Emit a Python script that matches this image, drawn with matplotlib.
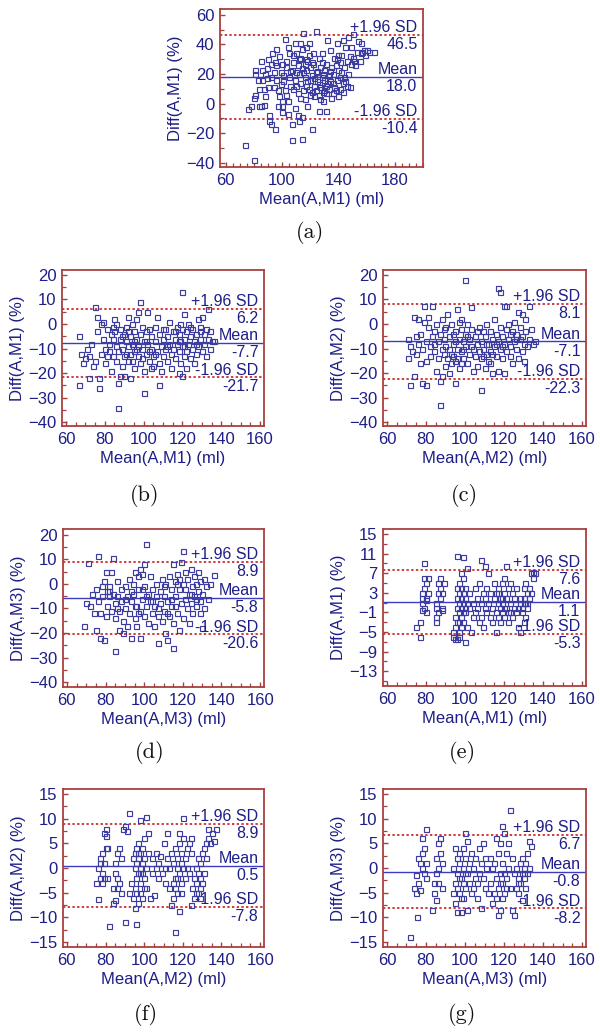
import matplotlib
matplotlib.use('Agg')
import matplotlib.pyplot as plt
from matplotlib.ticker import AutoMinorLocator, FixedLocator

plt.rcParams['font.family'] = ['Liberation Sans', 'DejaVu Sans']

# ---------------- data ----------------
captions = ['(a)', '(b)', '(c)', '(d)', '(e)', '(f)', '(g)']
x_labels = ['Mean(A,M1) (ml)', 'Mean(A,M1) (ml)', 'Mean(A,M2) (ml)', 'Mean(A,M3) (ml)',
            'Mean(A,M1) (ml)', 'Mean(A,M2) (ml)', 'Mean(A,M3) (ml)']
y_labels = ['Diff(A,M1) (%)', 'Diff(A,M1) (%)', 'Diff(A,M2) (%)', 'Diff(A,M3) (%)',
            'Diff(A,M1) (%)', 'Diff(A,M2) (%)', 'Diff(A,M3) (%)']
mean_vals = [18.0, -7.7, -7.1, -5.8, 1.1, 0.5, -0.8]
upper_vals = [46.5, 6.2, 8.1, 8.9, 7.6, 8.9, 6.7]
lower_vals = [-10.4, -21.7, -22.3, -20.6, -5.3, -7.8, -8.2]
xticks_a = [60, 100, 140, 180]
xticks_bg = [60, 80, 100, 120, 140, 160]
yticks_a = [-40, -20, 0, 20, 40, 60]
yticks_bcd = [-40, -30, -20, -10, 0, 10, 20]
yticks_e = [-13, -9, -5, -1, 3, 7, 11, 15]
yticks_fg = [-15, -10, -5, 0, 5, 10, 15]

a_points = [(74,-28),(80,-38),(76,-4),(78,-2),(80,4),(81,6),(81,20),(81,23),(83,16),(84,10),(84,-2),
    (85,-2),(85,29),(86,23),(86,16),(87,10),(88,5),(89,24),(89,17),(90,11),(91,-8),(91,-12),(92,-14),
    (92,27),(93,34),(94,21),(94,11),(95,-17),(96,37),(96,26),(96,16),(97,9),(97,-2),(98,5),(98,32),
    (99,21),(100,-2),(100,-6),(100,2),(101,15),(101,19),(102,9),(102,44),(103,29),(103,25),(104,2),
    (104,-7),(105,34),(105,18),(106,12),(107,-25),(107,-14),(107,23),(108,28),(108,10),(109,16),
    (109,41),(110,34),(110,21),(111,26),(111,7),(111,-8),(112,20),(113,14),(113,41),(113,31),(114,24),
    (114,-24),(114,-9),(114,37),(115,9),(115,48),(116,27),(116,18),(117,12),(117,38),(117,23),(118,-2),
    (118,29),(119,10),(119,41),(120,16),(120,25),(121,-17),(121,8),(121,19),(122,34),(123,12),(123,5),
    (124,49),(124,21),(124,9),(125,15),(126,31),(126,-5),(126,6),(127,25),(127,11),(128,18),(128,34),
    (129,2),(129,8),(130,16),(130,23),(131,12),(131,27),(131,7),(132,43),(133,19),(133,10),(134,36),
    (134,15),(135,25),(136,7),(136,20),(137,31),(137,11),(138,26),(139,16),(139,41),(140,23),(140,5),
    (141,28),(141,18),(142,33),(143,14),(143,43),(144,25),(144,18),(145,38),(146,29),(146,12),(147,45),
    (148,32),(148,11),(149,27),(149,38),(150,47),(151,29),(152,26),(153,35),(155,29),(156,34),(157,35),
    (158,36),(159,33),(160,36),(162,35),(156,41),(154,42),(143,8),(165,35),
    (99,13),(103,6),(106,22),(108,33),(110,12),(112,30),(115,21),(116,3),(118,15),(119,33),(120,6),
    (122,27),(125,22),(127,3),(128,28),(130,9),(132,14),(134,22),(135,4),(138,9),(140,33),(142,21),
    (145,15),(150,31),(109,-3),(112,-12),(117,30),(121,28),(104,38),(100,27),(95,28),(92,18),(88,20),
    (87,-1),(90,30),(113,4),(123,17),(126,13),(129,20),(131,-5),(136,14),(139,30),(141,10),(147,20)]

b_points = [(67,-5),(67,-25),(68,-12),(69,-16),(70,-14),(71,-10),(72,-22),(72,-13),(73,-8),(74,-17),
    (75,-15),(75,7),(76,-3),(76,3),(77,-22),(77,-26),(78,-12),(78,0),(79,-6),(79,1),(80,-10),(80,-16),
    (81,-13),(81,-2),(82,-8),(82,-11),(83,-4),(83,-19),(84,-6),(84,-13),(85,2),(85,-3),(86,-9),(86,-15),
    (86,0),(87,-34),(87,-24),(87,-11),(88,-6),(88,-21),(88,-2),(89,-17),(89,-10),(90,-4),(90,-13),
    (90,-21),(91,-7),(91,-1),(92,-15),(92,-9),(92,3),(93,-12),(93,-5),(93,-22),(94,-8),(94,0),(95,-18),
    (95,-11),(95,-3),(96,-6),(96,2),(97,-13),(97,-9),(97,5),(98,-16),(98,-4),(98,9),(99,-10),(99,-1),
    (100,-28),(100,-7),(100,-19),(101,-3),(101,-12),(102,5),(102,-8),(103,-15),(103,-2),(104,-10),
    (104,-5),(105,-13),(105,-17),(106,-7),(106,-1),(107,-11),(107,3),(108,-25),(108,-16),(108,-4),
    (109,-9),(109,-19),(110,-6),(110,-13),(111,-2),(111,-10),(112,-15),(112,-5),(113,-8),(113,1),
    (114,-12),(114,-18),(115,-3),(115,-10),(116,-6),(116,-14),(117,-1),(117,-8),(118,-20),(118,-11),
    (118,-4),(119,-16),(119,-7),(119,0),(120,-21),(120,13),(120,-9),(120,-2),(121,-13),(121,4),(121,-6),
    (122,-11),(122,-3),(122,-18),(123,-8),(123,0),(124,-14),(124,-5),(125,-10),(125,-2),(126,-7),
    (126,-16),(127,-4),(127,-12),(128,-9),(128,2),(129,-6),(129,-1),(130,-11),(130,3),(131,-4),(131,-8),
    (132,-13),(132,-2),(133,-6),(133,6),(134,-10),(134,-3),(135,-7),(136,-7),
    (84,-1),(89,-5),(91,-12),(94,-15),(96,-10),(99,-14),(101,-7),(103,-11),(106,-12),(110,-2),(112,-9),
    (116,-3),(118,-7),(121,-9),(124,-1),(127,-8),(129,-3),(95,-7),(92,-3),(104,-18)]

c_points = [(71,-6),(71,-14),(72,-9),(72,-25),(73,-11),(74,3),(74,-21),(75,-5),(75,-12),(76,-8),(76,2),
    (77,-16),(77,-4),(78,-24),(78,-10),(79,7.5),(79,1),(80,-15),(80,-7),(80,-25),(81,3),(81,-1),(82,-9),
    (82,-13),(83,7.5),(83,-5),(84,-3),(84,-11),(85,-19),(85,0),(86,-7),(86,-14),(87,-33),(87,-23),(87,-4),
    (88,-10),(88,-21),(88,2),(89,-12),(89,-6),(90,-17),(90,-1),(90,-9),(91,-14),(91,4),(92,-20),(92,-5),
    (93,-12),(93,-16),(93,0),(94,-8),(94,-13),(95,-24),(95,-3),(95,-15),(96,-10),(96,6),(97,-6),(97,-18),
    (97,1),(98,-11),(98,-2),(98,2),(99,-14),(99,-7),(100,18),(100,-4),(100,-9),(101,-16),(101,0),(102,-12),
    (102,-6),(103,7),(103,-2),(104,-10),(104,-19),(105,-13),(105,-5),(106,-8),(106,-17),(107,-1),(107,-11),
    (108,-27),(108,-14),(108,-7),(109,-3),(109,-10),(110,-18),(110,-5),(111,-12),(111,0),(112,-8),
    (112,-15),(113,-3),(113,-11),(114,-20),(114,-6),(115,-9),(115,2),(116,-13),(116,-4),(117,14.5),
    (117,-7),(117,-19),(118,13),(118,-1),(118,-10),(119,-14),(119,-5),(120,7.5),(120,-8),(120,-20),
    (121,7.5),(121,-2),(121,-11),(122,-6),(122,0),(123,-13),(123,-9),(124,-3),(124,-16),(125,-7),(125,1),
    (126,-10),(126,-4),(127,5),(127,-14),(128,-6),(128,-1),(129,4),(129,-11),(130,-8),(130,-15),(131,-3),
    (131,2),(132,-9),(133,-6),(133,7.5),(134,-2),(135,-8),(136,-7),
    (84,-8),(89,-2),(92,-10),(94,-4),(96,-14),(99,-10),(101,-5),(103,-9),(106,-3),(109,-13),(111,-8),
    (114,-12),(116,-8),(119,-9),(123,-4),(126,-6),(129,-5),(95,-7),(98,-16),(113,-16)]

d_points = [(69,-17),(70,-8),(71,8.5),(72,-9),(73,-4),(74,-12),(75,-19),(75,-2),(76,-7),(76,11.5),
    (77,-12),(77,-22),(78,-1),(78,-5),(79,1),(79,-23),(80,-13),(80,5),(81,-3),(81,-9),(82,-5),(82,-1),
    (83,-11),(83,5),(84,-4),(84,10.5),(85,-27.5),(85,-8),(85,-14),(86,1),(86,-5),(87,-19),(87,-11),(88,-2),
    (88,-7),(89,-15),(89,-20),(90,-1),(90,-10),(91,-17),(91,-5),(92,2),(92,-12),(93,-7),(93,-22),(94,0),
    (94,-4),(95,-14),(95,5),(96,-9),(96,-17),(97,3),(97,-2),(98,-11),(98,-22),(98,6),(99,4),(99,-6),(100,8),
    (100,-13),(100,-1),(101,16),(101,-9),(102,-4),(102,-16),(103,-7),(103,3),(104,-12),(104,-2),(105,-17),
    (105,-9),(106,-5),(106,0),(107,-24),(107,-13),(108,-3),(108,-8),(109,-15),(109,2),(110,-11),(110,-5),
    (111,-20),(111,0),(112,-7),(112,-23),(113,-13),(113,3),(114,-2),(114,-9),(115,-26),(115,-16),(115,8),
    (116,1),(116,-5),(117,-12),(117,4),(118,-2),(118,-19),(119,-8),(119,9),(120,13.5),(120,-14),(120,0),
    (121,5),(121,-6),(122,-10),(122,2),(123,-4),(123,-16),(124,6),(124,-8),(125,-1),(125,-12),(126,-5),
    (126,3),(127,-9),(127,0),(128,5),(128,-3),(129,-7),(129,1),(130,-18),(130,-4),(131,2),(131,-10),
    (132,-1),(133,-6),(134,0),(136,3.5),
    (82,-3),(86,-10),(90,-6),(93,-3),(95,-9),(97,-12),(99,-2),(101,-5),(104,-7),(107,-10),(110,-1),
    (112,-12),(114,-6),(116,-9),(118,2),(121,-2),(124,-4),(127,-6),(129,-12),(117,0)]

e_points = [(75,-4),(77,-6),(77,-3),(78,1),(78,3),(78,2),(79,6),(79,4),(79,9),(79,0),(80,5),(80,2),
    (80,-1),(81,6),(81,3),(80,1.5),(78,-0.5),
    (85,-3),(85,-2),(85,0),(85,1),(86,5),(86,3),(86,-1),(87,6),(87,2),(87,4),(88,3),(88,0),(88,-0.5),(89,5),
    (94,-6),(94,-5),(95,-6.5),(95,-4),(95,-2),(96,-6.5),(96,0),(96,2),(96,4),(96,10.5),(97,-3),(97,1),
    (97,3),(97,-1),(97,5),(97,-5),(98,0),(98,2),(98,4),(98,-2),(98,7),(99,10.3),(99,1),(99,-3),(99,3),
    (99,6),(100,-1),(100,2),(100,-7),(100,4),(101,1),(101,8),(101,-4),(102,3),(102,0),
    (103,-5),(104,-2),(104,1),(105,4),(105,-1),(106,2),(106,0),(107,-3),(107,5),(108,9.6),(108,1),
    (108,-2),(109,3),(109,-4),(110,0),(110,8.4),(110,2),(111,-1),(111,4),(112,7),(112,1),(113,-2),(113,3),
    (114,0),(114,-3),(115,2),(115,5),(116,-1),(116,3),(116,-5),(117,1),(117,-2),(117,4),(118,0),(118,2),
    (118,-3),(119,5),(119,1),(119,-1),(120,3),(120,-2),(120,6),(121,8.5),(121,0),(121,2),(122,4),(122,-1),
    (122,-3),(123,5),(123,1),(124,-2),(124,3),(125,0),(125,2),(126,4),(126,-1),
    (127,-4),(127,0),(128,-5),(128,2),(128,1),(129,-1),(129,0),(130,2),(130,4),(130,-3),(131,1),(131,5),
    (131,-2),(132,3),(132,0),(133,4),(133,2),(134,7),(134,3),(135,6),(135,7.3),(136,7),(132,1),
    (96,-3),(97,-6),(98,-4),(99,-1),(100,0),(117,3),(119,2),(120,0),(123,-1),(130,1)]

f_points = [(75,-3),(76,-6.3),(76,0),(77,-2),(77,2),(77,1),(78,-1),(78,3),(79,7),(79,-2),(79,1),(80,8),
    (80,4),(80,6.5),(81,-2),(81,4),(82,-11.7),(78,-3),
    (84,-4),(85,-6.5),(85,-1),(85,1),(86,3),(86,-2),(86,-4),(87,4),(87,-3),(88,2),(88,-5),(89,8),(84,-7),
    (90,-11),(90,8.5),(91,7.5),(92,11.1),(92,-5),(93,-3),(94,-6),(94,2),(95,-8),(95,-4),(95,0),(95,3),
    (96,-11.4),(96,-2),(96,1),(96,4),(97,-7),(97,-1),(97,2),(97,5),(98,-5),(98,-3),(98,0),(98,3),(98,9.8),
    (99,-1),(99,1),(99,4),(99,-6),(100,2),(100,-2),(100,6),(101,10.4),(101,0),(101,-4),(102,3),(102,7),
    (103,-6),(104,-1),(104,2),(105,-5.5),(106,0),(106,3),(107,-2),(107,1),(108,2.5),(109,-1),(110,5),
    (111,0),(111,-3),(112,7),(112,2),
    (113,-4),(113,0),(114,-7.5),(114,3),(115,-3),(115,-6),(115,1),(116,-12.9),(116,-2),(116,4),(117,-5),
    (117,0),(117,2),(118,-8.8),(118,-1),(118,5),(118,7),(119,1),(119,-3),(119,3),(120,10.2),(120,0),(120,6),
    (121,-2),(121,2),(122,4),(122,0),(123,5),(123,-1),(124,-7.5),(124,3),(124,6),
    (125,-4),(126,-6),(126,-2),(127,-5),(127,0),(127,-3),(128,-1),(128,2),(129,-4),(129,-2),(129,1),
    (130,-3),(130,3),(131,4),(131,-1),(132,5),(132,2),(133,8),(133,6),(134,5),(135,7),(136,5.5),(137,8),
    (96,-5),(97,3),(98,-1),(100,-4),(116,-4),(117,-2),(119,-5),(128,-5),(129,-6)]

g_points = [(72,-13.9),(74,-4),(75,-5),(75,-1.5),(75.5,-10),(76,2),(76,-3),(77,1),(77,-4.5),(78,6),
    (78,0),(78,3),(79,-1),(79,4),(80,8),(80,-2),(80,1),
    (83,-8.5),(84,-5),(84,-3),(85,2),(85,-1),(85,-6.5),(86,5),(86,0),(86,-3),(87,3),(87,6),(88,1),(88,-4),
    (94,-5),(94,0),(95,-3),(95,4),(95,-7),(96,-1),(96,2),(96,-9),(97,-5),(97,1),(97,3),(98,-2),(98,-6),
    (98,-9),(99,0),(99,4),(99,-3),(100,7),(100,2),(100,-4),(101,-1),(101,-8.5),(101,5.5),(102,1),(102,-3),
    (103,3),(103,-5),(100,-1),
    (104,-4),(104,0),(105,-2),(105,2),(106,-6),(106,-3),(107,4),(107,-1),(108,-8),(108,1),(109,5),(109,-2),
    (110,-4),(110,2),(111,0),(112,-5),
    (113,2),(113,-3),(114,-7),(114,0),(115,1),(115,-5),(116,6),(116,-2),(117,-4),(117,3),(117,-9.5),
    (118,-1),(118,-8.5),(118,5),(119,-3),(119,8.5),(119,1),(120,-5),(120,-1),(120,7),(121,-2),(121,3),
    (122,5),(122,0),(123,11.8),(123,-4),(124,-8.5),(124,2),(125,-1),(125,-9.5),
    (126,-4),(126,0),(127,-2),(127,-5),(128,1),(128,-3),(129,2),(129,-1),(129,-6.5),(130,-2),(130,0),
    (131,1),(131,-4),(132,3),(132,-1),(133,5.5),(133,0),(134,4.5),
    (96,-4),(97,-2),(99,-6),(116,-6),(118,-3),(119,-6),(121,-4),(127,-3),(130,-1)]

all_points = [a_points, b_points, c_points, d_points, e_points, f_points, g_points]
xlims = [(56, 200), (58, 162), (58, 162), (58, 162), (58, 162), (58, 162), (58, 162)]
ylims = [(-43, 64), (-41.5, 22), (-41.5, 22), (-42, 22.3), (-16, 16), (-16, 16), (-16, 16)]
xticks_all = [xticks_a] + [xticks_bg] * 6
yticks_all = [yticks_a, yticks_bcd, yticks_bcd, yticks_bcd, yticks_e, yticks_fg, yticks_fg]

# ---------------- layout (pixels: left, top, right, bottom) ----------------
W, H = 600, 1033
boxes = [(220, 9, 423, 167), (62, 270, 264, 426), (383, 270, 586, 426),
         (63, 529, 264, 687), (383, 529, 586, 686), (63, 789, 264, 947), (383, 789, 586, 947)]
caption_pos = [(310, 233), (145, 496), (464, 496), (150, 752), (462, 752), (146, 1014), (462, 1014)]
x_minor = [8, 4, 4, 4, 4, 4, 4]

TXT = '#1e1e88'
FRAME = '#a84040'
MARK = '#3c3ca0'
MEANC = '#3c3cc0'
LIM = '#c83030'

fig = plt.figure(figsize=(W / 100, H / 100), dpi=100)

for i in range(7):
    l, t, r, b = boxes[i]
    ax = fig.add_axes([l / W, 1 - b / H, (r - l) / W, (b - t) / H])
    xs = [p[0] for p in all_points[i]]
    ys = [p[1] for p in all_points[i]]
    ax.plot(xs, ys, linestyle='none', marker='s', markersize=3.6, markerfacecolor='none',
            markeredgecolor=MARK, markeredgewidth=0.85, zorder=3)
    ax.axhline(mean_vals[i], color=MEANC, lw=1.0, zorder=2)
    ax.axhline(upper_vals[i], color=LIM, lw=1.3, linestyle=(0, (1.3, 1.3)), zorder=2)
    ax.axhline(lower_vals[i], color=LIM, lw=1.3, linestyle=(0, (1.3, 1.3)), zorder=2)
    ax.set_xlim(*xlims[i])
    ax.set_ylim(*ylims[i])
    ax.xaxis.set_major_locator(FixedLocator(xticks_all[i]))
    ax.yaxis.set_major_locator(FixedLocator(yticks_all[i]))
    ax.xaxis.set_minor_locator(AutoMinorLocator(x_minor[i]))
    ax.yaxis.set_minor_locator(AutoMinorLocator(2))
    ax.tick_params(which='both', direction='in', colors=FRAME, labelcolor=TXT,
                   labelsize=12, top=False, right=False)
    ax.tick_params(which='major', length=3.5, width=1.0, pad=4)
    ax.tick_params(which='minor', length=3, width=0.9)
    for sp in ax.spines.values():
        sp.set_color(FRAME)
        sp.set_linewidth(1.3)
    ax.set_xlabel(x_labels[i], fontsize=12, color=TXT, labelpad=3)
    ax.set_ylabel(y_labels[i], fontsize=12, color=TXT, labelpad=2)

    def note(txt, val, above):
        ax.annotate(txt, xy=(1, val), xycoords=('axes fraction', 'data'),
                    xytext=(-4, 2 if above else -1.5), textcoords='offset points',
                    ha='right', va='baseline' if above else 'top',
                    fontsize=11.5, color=TXT, zorder=4)

    note('+1.96 SD', upper_vals[i], True)
    note('%.1f' % upper_vals[i], upper_vals[i], False)
    note('Mean', mean_vals[i], True)
    note('%.1f' % mean_vals[i], mean_vals[i], False)
    note('-1.96 SD', lower_vals[i], True)
    note('%.1f' % lower_vals[i], lower_vals[i], False)

    cx, cy = caption_pos[i]
    fig.text(cx / W, 1 - cy / H, captions[i], ha='center', va='center',
             fontsize=16, family='cmr10', color='#111111')

fig.savefig('out.png', dpi=100)
